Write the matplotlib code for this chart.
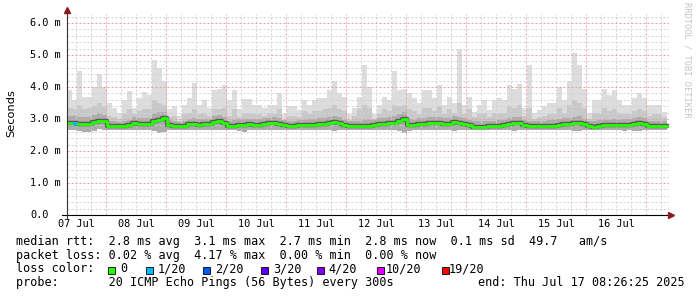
import numpy as np
import matplotlib
matplotlib.use('Agg')
import matplotlib.pyplot as plt
from matplotlib import transforms
from matplotlib.patches import Rectangle

# median rtt per 2h step (ms), starting Jul 07 08:26
med = [
    2.88, 2.89, 2.85, 2.84, 2.84, 2.90, 2.95, 2.93,
    2.77, 2.77, 2.77, 2.78, 2.80, 2.86, 2.85, 2.85, 2.83, 2.95, 2.97, 3.02,
    2.80, 2.77, 2.77, 2.77, 2.83, 2.83, 2.82, 2.83, 2.84, 2.90, 2.95, 2.88,
    2.78, 2.78, 2.82, 2.82, 2.84, 2.82, 2.82, 2.84, 2.86, 2.88, 2.84, 2.80,
    2.78, 2.78, 2.80, 2.80, 2.82, 2.82, 2.84, 2.84, 2.86, 2.90, 2.86, 2.80,
    2.78, 2.77, 2.77, 2.78, 2.78, 2.80, 2.84, 2.85, 2.86, 2.88, 2.95, 3.00,
    2.82, 2.80, 2.84, 2.85, 2.86, 2.87, 2.86, 2.85, 2.84, 2.90, 2.87, 2.84,
    2.80, 2.76, 2.76, 2.76, 2.77, 2.77, 2.78, 2.80, 2.84, 2.87, 2.86, 2.80,
    2.77, 2.77, 2.78, 2.78, 2.78, 2.79, 2.80, 2.84, 2.84, 2.86, 2.88, 2.83,
    2.77, 2.76, 2.78, 2.80, 2.80, 2.80, 2.80, 2.82, 2.82, 2.85, 2.88, 2.84,
    2.77, 2.77, 2.77, 2.77]

# slowest ping per step
top = [
    3.90, 3.60, 4.50, 3.70, 3.68, 4.00, 4.40, 4.00,
    3.50, 3.33, 3.20, 3.60, 3.88, 3.35, 3.65, 3.85, 3.75, 4.84, 4.60, 4.20,
    3.30, 3.40, 3.10, 3.45, 3.65, 4.13, 3.45, 3.60, 3.35, 3.90, 3.95, 4.05,
    3.60, 3.90, 3.30, 3.62, 3.62, 3.45, 3.45, 3.35, 3.45, 3.45, 3.80, 3.15,
    3.40, 3.40, 3.28, 3.60, 3.45, 3.60, 3.65, 3.65, 3.90, 4.20, 3.80, 3.70,
    3.15, 3.35, 3.70, 4.70, 4.00, 3.15, 3.43, 3.70, 3.60, 4.50, 3.90, 3.95,
    3.80, 3.65, 3.50, 3.90, 3.90, 3.65, 4.05, 3.43, 3.70, 3.50, 5.20, 3.45,
    3.70, 3.23, 3.45, 3.60, 3.28, 3.60, 3.65, 3.60, 4.05, 3.95, 4.10, 3.35,
    4.70, 3.20, 3.28, 3.40, 3.50, 3.50, 4.00, 3.60, 4.20, 5.05, 4.70, 3.95,
    3.20, 3.60, 3.60, 3.95, 3.75, 3.90, 3.60, 3.45, 3.45, 3.65, 3.80, 3.65,
    3.43, 3.45, 3.45, 3.23]

# upper edge of the denser smoke
mid = [
    3.35, 3.30, 3.45, 3.30, 3.35, 3.40, 3.50, 3.40,
    3.10, 3.05, 3.00, 3.15, 3.30, 3.15, 3.25, 3.30, 3.30, 3.60, 3.50, 3.45,
    3.05, 3.10, 2.95, 3.15, 3.20, 3.30, 3.15, 3.20, 3.10, 3.30, 3.30, 3.35,
    3.10, 3.30, 3.05, 3.20, 3.20, 3.15, 3.15, 3.10, 3.20, 3.15, 3.30, 2.98,
    3.10, 3.10, 3.05, 3.25, 3.15, 3.25, 3.25, 3.30, 3.35, 3.45, 3.30, 3.25,
    2.98, 3.10, 3.30, 3.45, 3.35, 3.00, 3.15, 3.30, 3.25, 3.45, 3.40, 3.45,
    3.30, 3.25, 3.15, 3.35, 3.35, 3.25, 3.40, 3.15, 3.30, 3.20, 3.50, 3.15,
    3.30, 3.05, 3.15, 3.20, 3.05, 3.20, 3.20, 3.20, 3.40, 3.35, 3.45, 3.10,
    3.35, 3.00, 3.05, 3.10, 3.15, 3.15, 3.35, 3.20, 3.45, 3.60, 3.50, 3.35,
    3.00, 3.20, 3.20, 3.35, 3.25, 3.30, 3.20, 3.15, 3.15, 3.25, 3.30, 3.25,
    3.10, 3.15, 3.15, 3.05]

# upper edge of the dark core
dark = [
    3.08, 3.08, 3.05, 3.05, 3.05, 3.12, 3.18, 3.12,
    2.95, 2.93, 2.92, 2.95, 2.98, 3.05, 3.04, 3.04, 3.02, 3.18, 3.22, 3.22,
    2.98, 2.93, 2.92, 2.94, 3.00, 3.02, 2.99, 3.00, 3.01, 3.08, 3.12, 3.06,
    2.95, 2.96, 2.99, 2.99, 3.01, 2.99, 2.99, 3.02, 3.04, 3.06, 3.02, 2.96,
    2.95, 2.95, 2.97, 2.98, 3.00, 3.00, 3.02, 3.03, 3.05, 3.10, 3.05, 2.98,
    2.94, 2.93, 2.94, 2.97, 2.96, 2.97, 3.02, 3.04, 3.05, 3.08, 3.15, 3.22,
    3.00, 2.98, 3.02, 3.04, 3.05, 3.05, 3.05, 3.03, 3.02, 3.09, 3.06, 3.02,
    2.98, 2.93, 2.93, 2.94, 2.94, 2.95, 2.96, 2.98, 3.03, 3.07, 3.05, 2.98,
    2.95, 2.93, 2.95, 2.95, 2.96, 2.97, 2.99, 3.02, 3.03, 3.06, 3.08, 3.01,
    2.94, 2.93, 2.96, 2.98, 2.98, 2.99, 2.98, 3.00, 3.00, 3.04, 3.07, 3.02,
    2.94, 2.94, 2.94, 2.93]

# fastest ping per step
lo = [
    2.66, 2.66, 2.62, 2.60, 2.60, 2.62, 2.68, 2.66,
    2.66, 2.67, 2.67, 2.67, 2.66, 2.66, 2.65, 2.66, 2.66, 2.62, 2.55, 2.58,
    2.66, 2.67, 2.67, 2.67, 2.66, 2.66, 2.66, 2.66, 2.66, 2.66, 2.65, 2.66,
    2.66, 2.66, 2.62, 2.60, 2.66, 2.65, 2.66, 2.66, 2.66, 2.65, 2.66, 2.67,
    2.67, 2.67, 2.66, 2.66, 2.66, 2.66, 2.66, 2.66, 2.65, 2.64, 2.66, 2.66,
    2.67, 2.67, 2.67, 2.66, 2.66, 2.67, 2.66, 2.66, 2.66, 2.65, 2.62, 2.55,
    2.62, 2.66, 2.66, 2.65, 2.66, 2.66, 2.65, 2.66, 2.66, 2.64, 2.65, 2.66,
    2.66, 2.67, 2.67, 2.67, 2.67, 2.67, 2.66, 2.66, 2.65, 2.64, 2.65, 2.66,
    2.67, 2.67, 2.67, 2.67, 2.66, 2.66, 2.66, 2.66, 2.65, 2.64, 2.64, 2.66,
    2.67, 2.66, 2.66, 2.66, 2.66, 2.66, 2.66, 2.64, 2.66, 2.64, 2.63, 2.66,
    2.67, 2.67, 2.67, 2.67]

# steps with packet loss (index, colour index)
loss_idx = [1]
loss_lvl = [1]

loss_labels = ['0', '1/20', '2/20', '3/20', '4/20', '10/20', '19/20']
loss_colors = ['#26ff00', '#00b8ff', '#0059ff', '#5e00ff', '#7e00ff', '#dd00ff', '#ff0000']
days = ['07 Jul', '08 Jul', '09 Jul', '10 Jul', '11 Jul', '12 Jul', '13 Jul', '14 Jul', '15 Jul', '16 Jul']

legend_lines = [
    'median rtt:  2.8 ms avg  3.1 ms max  2.7 ms min  2.8 ms now  0.1 ms sd  49.7   am/s',
    'packet loss: 0.02 % avg  4.17 % max  0.00 % min  0.00 % now',
    'loss color:',
    'probe:       20 ICMP Echo Pings (56 Bytes) every 300s',
]

W, H = 697, 297
MONO = 'DejaVu Sans Mono'

fig = plt.figure(figsize=(W / 100, H / 100), dpi=100)
fig.patch.set_facecolor('white')


def fx(px):
    return px / W


def fy(px):
    return 1 - px / H


ax = fig.add_axes([fx(67), fy(215), (669 - 67) / W, (215 - 14) / H])
for s in ax.spines.values():
    s.set_visible(False)
ax.set_xticks([])
ax.set_yticks([])

t0 = 8.44          # graph start, hours after 07 Jul 00:00
pph = 2.5          # pixels per hour
ppm = 32.0         # pixels per ms
ax.set_xlim(t0, t0 + 602 / pph)
ax.set_ylim(0, 201 / ppm)

x = t0 + 2 * np.arange(len(med) + 1)


def ext(a):
    return np.append(a, a[-1])


# smoke
ax.fill_between(x, ext(lo), ext(top), step='post', color='#dddddd', lw=0, zorder=1)
ax.fill_between(x, ext(lo), ext(mid), step='post', color='#c8c8c8', lw=0, zorder=1.1)
ax.fill_between(x, ext(lo), ext(dark), step='post', color='#acacac', lw=0, zorder=1.2)

# grid on top of the smoke
for h in range(6, 250, 6):
    major = h % 24 == 0
    ax.axvline(h, color='#eaa0a0' if major else '#d2d2d2', lw=0.72,
               ls=(0, (2, 2)), zorder=2.5)
for k in range(1, 32):
    v = k * 0.2
    major = k % 5 == 0
    ax.axhline(v, color='#eaa0a0' if major else '#d2d2d2', lw=0.72,
               ls=(0, (2, 2)), zorder=2.5)

# median line coloured by loss
ax.step(x, ext(med), where='post', color='#5a5a5a', lw=3.2, zorder=3)
ax.step(x, ext(med), where='post', color=loss_colors[0], lw=2.0, zorder=3.1)
for i, lv in zip(loss_idx, loss_lvl):
    ax.plot([x[i], x[i + 1]], [med[i], med[i]], color=loss_colors[lv], lw=2.0,
            solid_capstyle='butt', zorder=3.2)

# axes lines and arrows
ax.plot([t0 - 5 / pph, t0 + 603 / pph], [0, 0], color='black', lw=0.8, clip_on=False, zorder=4)
ax.plot([t0, t0], [-3 / ppm, 203 / ppm], color='#333333', lw=0.8, clip_on=False, zorder=4)
ax.plot(t0 + 604 / pph, 0, marker='>', ms=4, color='#8b1a1a', clip_on=False, zorder=5)
ax.plot(t0, 205 / ppm, marker='^', ms=4, color='#8b1a1a', clip_on=False, zorder=5)

# tick labels
ty = transforms.blended_transform_factory(fig.transFigure, ax.transData)
for v in range(7):
    lab = '0.0' if v == 0 else f'{v}.0 m'
    ax.text(fx(30), v, lab, transform=ty, ha='left', va='center',
            fontsize=7.4, family=MONO)
tx = transforms.blended_transform_factory(ax.transData, fig.transFigure)
for k, d in enumerate(days):
    ax.text(12 + 24 * k, fy(224), d, transform=tx, ha='center', va='center',
            fontsize=7.4, family=MONO)

fig.text(fx(11), fy(113), 'Seconds', rotation=90, ha='center', va='center', fontsize=8.2)
fig.text(fx(687), fy(60), 'RRDTOOL / TOBI OETIKER', rotation=-90, ha='center',
         va='center', fontsize=6.2, family=MONO, color='#c4c4c4')

# legend
baselines = [244.7, 259.0, 272.3, 286.3]
for line, b in zip(legend_lines, baselines):
    fig.text(fx(16), fy(b), line, ha='left', va='baseline', fontsize=8.5, family=MONO)
fig.text(fx(478), fy(baselines[3]), 'end: Thu Jul 17 08:26:25 2025', ha='left',
         va='baseline', fontsize=8.5, family=MONO)

box_x = [108, 146, 203, 260.7, 316.7, 376.7, 441.7]
lab_x = [120.7, 158, 215, 272.7, 328.3, 386, 449]
for bx, lx, c, lab in zip(box_x, lab_x, loss_colors, loss_labels):
    fig.patches.append(Rectangle((fx(bx), fy(273.5)), 7 / W, 7 / H, transform=fig.transFigure,
                                 facecolor=c, edgecolor='black', lw=0.6))
    fig.text(fx(lx), fy(baselines[2]), lab, ha='left', va='baseline', fontsize=8.5, family=MONO)

fig.savefig('out.png', dpi=100)
